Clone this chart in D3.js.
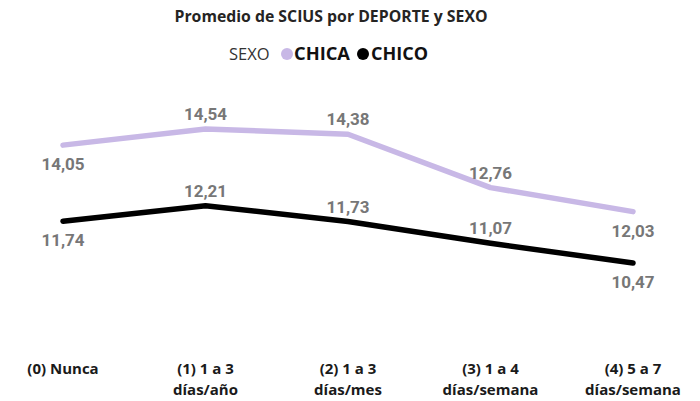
<!DOCTYPE html>
<html><head><meta charset="utf-8">
<script src="https://cdn.jsdelivr.net/npm/d3@7"></script>
<style>body{margin:0;background:#fff}svg{display:block}</style>
</head><body>
<svg id="c" width="700" height="401"></svg>
<script>
const categories = ["(0) Nunca","(1) 1 a 3|días/año","(2) 1 a 3|días/mes","(3) 1 a 4|días/semana","(4) 5 a 7|días/semana"];
const chica = [14.05,14.54,14.38,12.76,12.03];
const chico = [11.74,12.21,11.73,11.07,10.47];
const labelPos = ["below","above","above","above","below"];
const seriesNames = ["CHICA","CHICO"];
const colors = ["#c8b8e6","#000000"];
const title = "Promedio de SCIUS por DEPORTE y SEXO";
const legendTitle = "SEXO";

const svg = d3.select("#c");
const x = d3.scalePoint().domain(categories).range([63,633]);
const y = d3.scaleLinear().domain([10.47,14.54]).range([263,129]);

svg.append("text").attr("x",331).attr("y",22).attr("text-anchor","middle")
  .attr("font-family","Open Sans").attr("font-weight","bold").attr("font-size",15.5)
  .attr("textLength",313).attr("lengthAdjust","spacingAndGlyphs")
  .attr("fill","#252423").text(title);

const lg = svg.append("g").attr("font-family","Open Sans");
lg.append("text").attr("x",229).attr("y",60).attr("font-size",16.5).attr("fill","#333").text(legendTitle);
lg.append("circle").attr("cx",287).attr("cy",54).attr("r",6).attr("fill",colors[0]);
lg.append("text").attr("x",294).attr("y",60).attr("font-size",18).attr("font-weight","bold").attr("fill","#111")
  .attr("textLength",56).attr("lengthAdjust","spacingAndGlyphs").text(seriesNames[0]);
lg.append("circle").attr("cx",363).attr("cy",54).attr("r",6).attr("fill",colors[1]);
lg.append("text").attr("x",371).attr("y",60).attr("font-size",18).attr("font-weight","bold").attr("fill","#111")
  .attr("textLength",57).attr("lengthAdjust","spacingAndGlyphs").text(seriesNames[1]);

const line = d3.line().x((d,i)=>x(categories[i])).y(d=>y(d)).curve(d3.curveLinear);
[chica,chico].forEach((s,k)=>{
  svg.append("path").datum(s).attr("d",line).attr("fill","none")
    .attr("stroke",colors[k]).attr("stroke-width",5.5)
    .attr("stroke-linecap","round").attr("stroke-linejoin","round");
});
[chica,chico].forEach((s,k)=>{
  svg.append("g").selectAll("text").data(s).join("text")
    .attr("x",(d,i)=>x(categories[i]))
    .attr("y",(d,i)=>y(d) + (labelPos[i]==="above" ? -9 : 25))
    .attr("text-anchor","middle")
    .attr("font-family","Roboto").attr("font-weight","bold").attr("font-size",17)
    .attr("fill","#777777")
    .text(d=>d3.format(".2f")(d).replace(".",","));
});

const xa = svg.append("g").attr("font-family","Open Sans").attr("font-weight","bold").attr("font-size",15).attr("fill","#1a1a1a");
categories.forEach(c=>{
  const parts = c.split("|");
  const t = xa.append("text").attr("x",x(c)).attr("y",374).attr("text-anchor","middle");
  parts.forEach((p,j)=>t.append("tspan").attr("x",x(c)).attr("dy",j?21:0).text(p));
});
</script>
</body></html>
